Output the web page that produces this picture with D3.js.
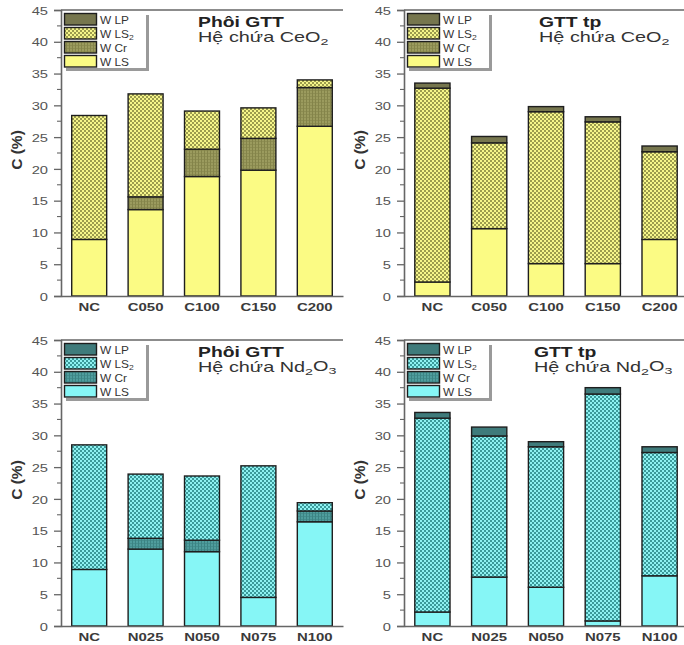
<!DOCTYPE html>
<html>
<head>
<meta charset="utf-8">
<script src="https://cdn.jsdelivr.net/npm/d3@7"></script>
<style>
  html, body { margin: 0; padding: 0; background: #fff; }
  svg { display: block; font-family: "Liberation Sans", Arial, sans-serif; }
</style>
</head>
<body>
<svg id="chart" width="684" height="645"></svg>
<script>
// Categories
const catsCe = ["NC", "C050", "C100", "C150", "C200"];
const catsNd = ["NC", "N025", "N050", "N075", "N100"];

// Stack order (bottom to top)
const keys = ["LS", "Cr", "LS2", "LP"];
const yTicks = [0, 5, 10, 15, 20, 25, 30, 35, 40, 45];

// Phôi GTT – CeO2 (C, %)
const ceBlank_LS  = [8.9, 13.6, 18.8, 19.8, 26.7];
const ceBlank_Cr  = [0, 2.0, 4.3, 5.0, 6.1];
const ceBlank_LS2 = [19.5, 16.2, 6.0, 4.8, 1.2];
const ceBlank_LP  = [0, 0, 0, 0, 0];

// GTT tp – CeO2
const ceFinal_LS  = [2.2, 10.6, 5.1, 5.1, 8.9];
const ceFinal_Cr  = [0, 0, 0, 0, 0];
const ceFinal_LS2 = [30.5, 13.5, 23.9, 22.3, 13.8];
const ceFinal_LP  = [0.8, 1.0, 0.8, 0.8, 0.9];

// Phôi GTT – Nd2O3
const ndBlank_LS  = [8.9, 12.1, 11.7, 4.5, 16.4];
const ndBlank_Cr  = [0, 1.7, 1.8, 0, 1.7];
const ndBlank_LS2 = [19.6, 10.1, 10.1, 20.7, 1.3];
const ndBlank_LP  = [0, 0, 0, 0, 0];

// GTT tp – Nd2O3
const ndFinal_LS  = [2.2, 7.7, 6.1, 0.8, 7.9];
const ndFinal_Cr  = [0, 0, 0, 0, 0];
const ndFinal_LS2 = [30.5, 22.2, 22.1, 35.7, 19.4];
const ndFinal_LP  = [0.9, 1.4, 0.8, 1.0, 0.9];

const svg = d3.select("#chart");
const defs = svg.append("defs");

// Colour themes
const themes = {
  ce: { LS: "#fbfb84", lsLight: "#f6f68a", lsDark: "#9c9c4e", cr: "#9b9b5e", crLine: "#84844a", LP: "#76764e" },
  nd: { LS: "#86f6f6", lsLight: "#8ef2f2", lsDark: "#3b9a9a", cr: "#4f9d9d", crLine: "#3c8484", LP: "#3f7b7b" }
};

function makePatterns(id, t) {
  const p1 = defs.append("pattern").attr("id", id + "-ls2")
    .attr("width", 4).attr("height", 4).attr("patternUnits", "userSpaceOnUse");
  p1.append("rect").attr("width", 4).attr("height", 4).attr("fill", t.lsDark);
  p1.append("rect").attr("x", 0).attr("y", 0).attr("width", 2).attr("height", 2).attr("fill", t.lsLight);
  p1.append("rect").attr("x", 2).attr("y", 2).attr("width", 2).attr("height", 2).attr("fill", t.lsLight);

  const p2 = defs.append("pattern").attr("id", id + "-cr")
    .attr("width", 3).attr("height", 3).attr("patternUnits", "userSpaceOnUse");
  p2.append("rect").attr("width", 3).attr("height", 3).attr("fill", t.cr);
  p2.append("rect").attr("x", 0).attr("y", 0).attr("width", 1).attr("height", 3).attr("fill", t.crLine);
  p2.append("rect").attr("x", 0).attr("y", 0).attr("width", 3).attr("height", 0.6).attr("fill", t.crLine);
}
makePatterns("ce", themes.ce);
makePatterns("nd", themes.nd);

function fills(id) {
  const t = themes[id];
  return { LS: t.LS, Cr: `url(#${id}-cr)`, LS2: `url(#${id}-ls2)`, LP: t.LP };
}

// Text with subscripts: parts = [[text, isSub], ...]
function subText(sel, parts) {
  let inSub = false;
  parts.forEach(([txt, sub]) => {
    const ts = sel.append("tspan").text(txt);
    if (sub && !inSub) ts.attr("font-size", "0.72em").attr("dy", "0.3em");
    else if (sub) ts.attr("font-size", "0.72em");
    else if (inSub) ts.attr("dy", "-0.3em");
    inSub = sub;
  });
}

// Wide lettering: text placed at (x, y) and stretched horizontally
function wideText(parent, x, y, sx) {
  return parent.append("text").attr("transform", `translate(${x},${y}) scale(${sx},1)`);
}

function panel(cfg) {
  const { x0, x1, y0, y1, cats, series, theme, title, subtitle, titleX } = cfg;
  const g = svg.append("g");
  const x = d3.scaleBand().domain(cats).range([x0, x1]).paddingInner(0.38).paddingOuter(0.19);
  const y = d3.scaleLinear().domain([0, 45]).range([y1, y0]);

  const rows = cats.map((c, i) => ({ cat: c, LS: series.LS[i], Cr: series.Cr[i], LS2: series.LS2[i], LP: series.LP[i] }));
  const stacked = d3.stack().keys(keys)(rows);
  const f = fills(theme);

  // Bars
  stacked.forEach(layer => {
    g.append("g").selectAll("rect")
      .data(layer.filter(d => d[1] - d[0] > 0))
      .join("rect")
      .attr("x", d => x(d.data.cat))
      .attr("width", x.bandwidth())
      .attr("y", d => y(d[1]))
      .attr("height", d => y(d[0]) - y(d[1]))
      .attr("fill", f[layer.key])
      .attr("stroke", "#1e1e1e")
      .attr("stroke-width", 1.4);
  });

  // Y axis with major ticks
  const yAxis = g.append("g").attr("transform", `translate(${x0},0)`)
    .call(d3.axisLeft(y).tickValues(yTicks).tickSize(7));
  yAxis.select(".domain").attr("stroke", "#666").attr("stroke-width", 1.6);
  yAxis.selectAll(".tick line").attr("stroke", "#666").attr("stroke-width", 1.3);
  yAxis.selectAll(".tick text")
    .attr("x", 0).attr("dy", "0.36em")
    .attr("transform", "translate(-13,0) scale(1.28,1)")
    .attr("fill", "#555").attr("font-size", 11.5)
    .attr("font-family", "'Liberation Sans', Arial, sans-serif");
  // Minor ticks
  const minor = d3.range(2.5, 45, 5);
  g.append("g").selectAll("line").data(minor).join("line")
    .attr("x1", x0 - 4).attr("x2", x0).attr("y1", d => y(d)).attr("y2", d => y(d))
    .attr("stroke", "#666").attr("stroke-width", 1.1);

  // X axis
  const xAxis = g.append("g").attr("transform", `translate(0,${y1})`)
    .call(d3.axisBottom(x).tickSize(0).tickPadding(7));
  xAxis.select(".domain").attr("stroke", "#666").attr("stroke-width", 1.6);
  xAxis.selectAll(".tick text")
    .attr("transform", "scale(1.3,1)")
    .attr("fill", "#3a3a3a").attr("font-size", 11.5)
    .attr("font-weight", "bold").attr("font-family", "'Liberation Sans', Arial, sans-serif");

  // Top frame line
  g.append("line").attr("x1", x0).attr("x2", x1).attr("y1", y0).attr("y2", y0)
    .attr("stroke", "#666").attr("stroke-width", 1.4);

  // Y label
  g.append("text")
    .attr("transform", `translate(${x0 - 39},${(y0 + y1) / 2 - 3}) rotate(-90)`)
    .attr("text-anchor", "middle").attr("font-size", 15.5).attr("font-weight", "bold")
    .attr("fill", "#333").text("C (%)");

  // Titles
  wideText(g, titleX, y0 + 17, 1.38).attr("font-size", 14)
    .attr("font-weight", "bold").attr("fill", "#222").text(title);
  subText(wideText(g, titleX, y0 + 32, 1.44).attr("font-size", 13.8).attr("fill", "#333"), subtitle);

  // Legend
  const lx = x0 + 2, ly = y0 + 2, lw = 83, lh = 56;
  const lg = g.append("g");
  lg.append("rect").attr("x", lx + 3).attr("y", ly + 3).attr("width", lw).attr("height", lh).attr("fill", "#9a9a9a");
  lg.append("rect").attr("x", lx).attr("y", ly).attr("width", lw).attr("height", lh).attr("fill", "#fff");
  const legendItems = [["LP", [["W LP", false]]], ["LS2", [["W LS", false], ["2", true]]], ["Cr", [["W Cr", false]]], ["LS", [["W LS", false]]]];
  legendItems.forEach(([k, label], i) => {
    const ry = ly + 1.5 + i * 14;
    lg.append("rect").attr("x", lx + 1.5).attr("y", ry).attr("width", 32).attr("height", 11.5)
      .attr("fill", f[k]).attr("stroke", "#1e1e1e").attr("stroke-width", 1.4);
    subText(wideText(lg, lx + 37, ry + 10, 1.08).attr("font-size", 11).attr("fill", "#333"), label);
  });
}

panel({ x0: 61, x1: 343, y0: 10, y1: 296, cats: catsCe, theme: "ce",
  series: { LS: ceBlank_LS, Cr: ceBlank_Cr, LS2: ceBlank_LS2, LP: ceBlank_LP },
  title: "Phôi GTT", subtitle: [["Hệ chứa CeO", false], ["2", true]], titleX: 198 });
panel({ x0: 404, x1: 688, y0: 10, y1: 296, cats: catsCe, theme: "ce",
  series: { LS: ceFinal_LS, Cr: ceFinal_Cr, LS2: ceFinal_LS2, LP: ceFinal_LP },
  title: "GTT tp", subtitle: [["Hệ chứa CeO", false], ["2", true]], titleX: 539 });
panel({ x0: 61, x1: 343, y0: 340, y1: 626, cats: catsNd, theme: "nd",
  series: { LS: ndBlank_LS, Cr: ndBlank_Cr, LS2: ndBlank_LS2, LP: ndBlank_LP },
  title: "Phôi GTT", subtitle: [["Hệ chứa Nd", false], ["2", true], ["O", false], ["3", true]], titleX: 198 });
panel({ x0: 404, x1: 688, y0: 340, y1: 626, cats: catsNd, theme: "nd",
  series: { LS: ndFinal_LS, Cr: ndFinal_Cr, LS2: ndFinal_LS2, LP: ndFinal_LP },
  title: "GTT tp", subtitle: [["Hệ chứa Nd", false], ["2", true], ["O", false], ["3", true]], titleX: 534 });
</script>
</body>
</html>
